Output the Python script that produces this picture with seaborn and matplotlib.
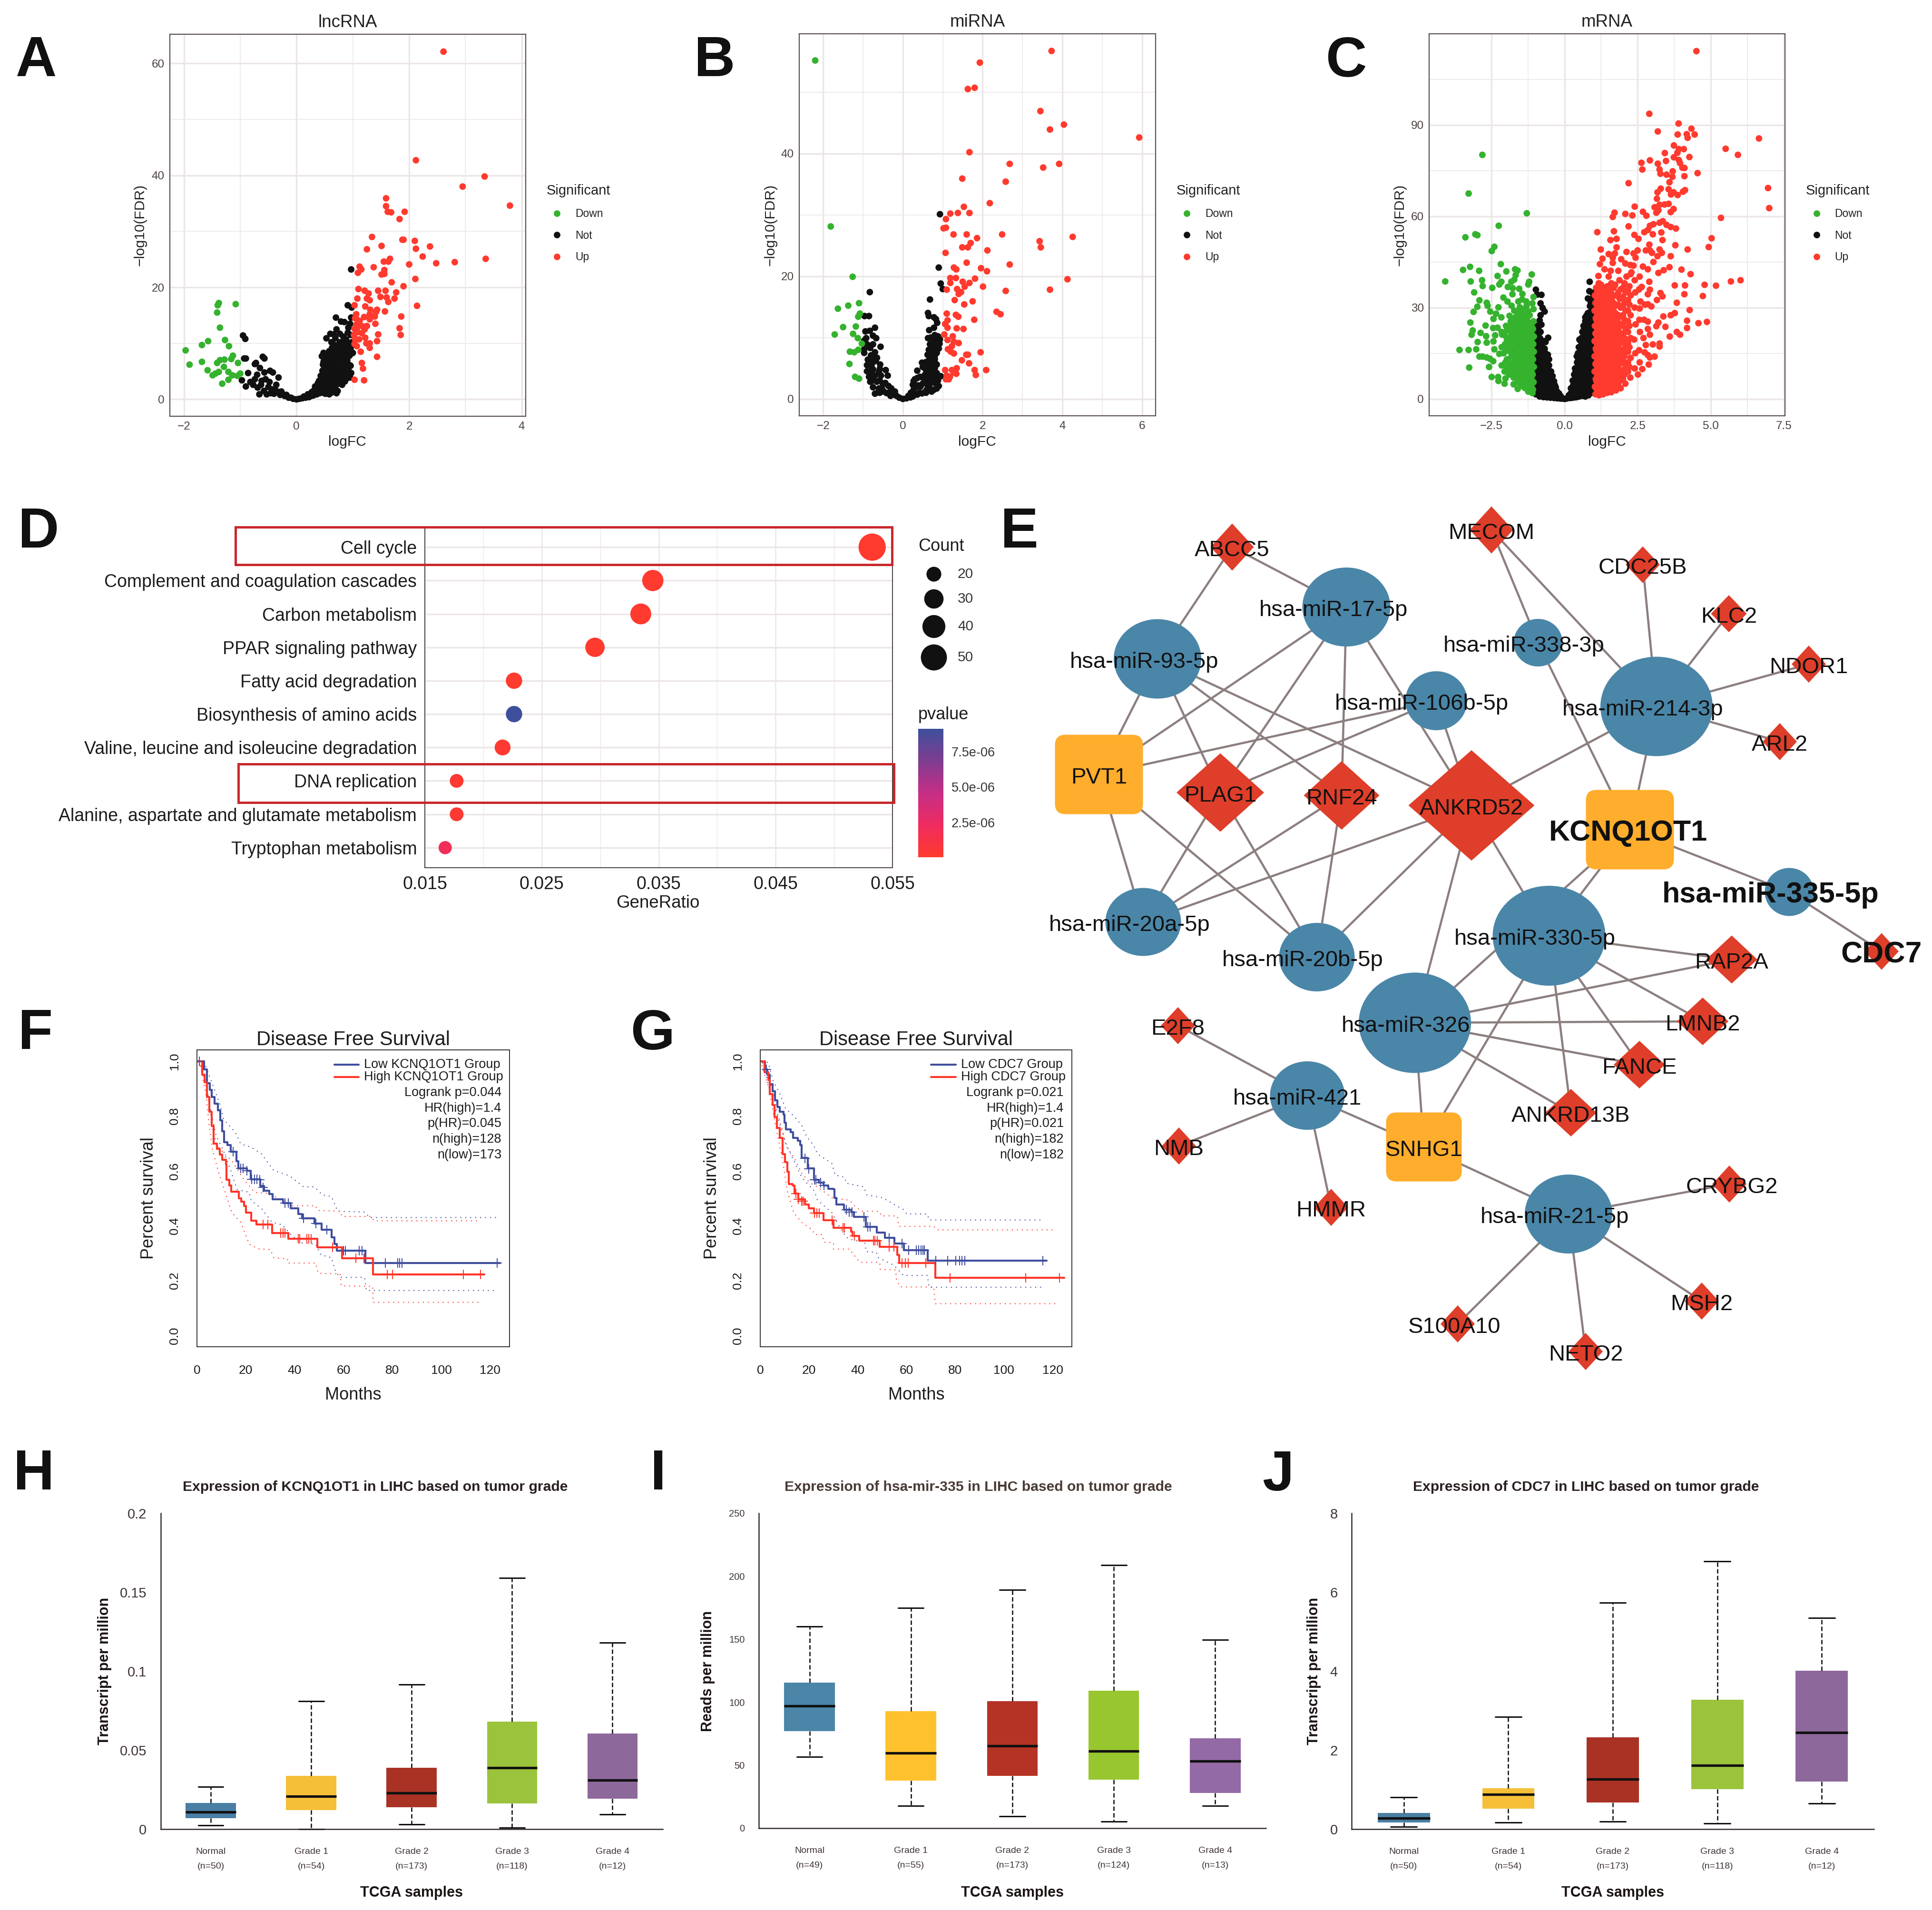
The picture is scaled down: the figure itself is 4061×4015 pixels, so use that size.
import numpy as np
import pandas as pd
import matplotlib
matplotlib.use('Agg')
import matplotlib.pyplot as plt
import seaborn as sns
from matplotlib.colors import LinearSegmentedColormap, Normalize
from matplotlib.cm import ScalarMappable
from matplotlib.patches import Ellipse, Polygon, FancyBboxPatch, Rectangle

sns.set_theme(style='white')
plt.rcParams['font.family'] = ['Liberation Sans', 'DejaVu Sans']
plt.rcParams['axes.unicode_minus'] = True

W, H = 4061, 4015

# ---------- volcano data (logFC, -log10 FDR) ----------
a_down = [(-1.97,8.75),(-1.90,6.2),(-1.68,9.7),(-1.57,10.4),(-1.68,6.7),(-1.58,5.2),(-1.49,4.3),(-1.44,4.6),(-1.38,4.9),(-1.41,6.5),
          (-1.36,7.0),(-1.28,7.1),(-1.29,5.8),(-1.32,2.8),(-1.21,3.5),(-1.21,4.9),(-1.14,4.3),(-1.05,4.2),(-1.0,4.6),(-1.16,7.2),
          (-1.13,7.8),(-1.04,6.5),(-1.20,9.5),(-1.27,10.6),(-1.36,12.8),(-1.41,15.5),(-1.40,16.8),(-1.38,17.2),(-1.08,17.0)]
a_not = [(-.95,11.4),(-.91,10.8),(-.93,7.3),(-.90,7.3),(-.60,7.6),(-.57,7.3),(-.72,6.5),(-.74,6.3),(-.65,5.6),(-.47,5.1),(-.42,4.8),
         (-.86,4.7),(-.57,4.8),(-.32,3.9),(-.97,3.4),(-.90,2.3),(-.82,3.1),(-.74,3.6),(-.70,4.4),(-.69,2.1),(-.66,.9),(-.53,.9),
         (-.63,2.6),(-.55,3.6),(-.48,3.1),(-.44,1.8),(-.36,2.6),(-.40,1),(-.32,1.3),(-.29,.8),(-.21,.6),(-.14,.3),(-.06,.1),(0,0),
         (-.58,1.5),(-.5,2.2),(-.46,1.1),(-.37,1.6),(-.27,1.4),(-.24,.9),(-.18,.8),(-.1,.3),(-.77,2.6),(-.62,3.3),
         (.05,.1),(.1,.2),(.13,.5),(.16,.3),(.2,.9),(.22,.4),(.26,.6),(.27,1.3),(.3,.7),(.31,1.6),(.33,2.3),(.36,.9),(.37,1.9),(.38,2.9),
         (.41,1.1),(.42,2.1),(.4,3.3),(.43,4.2),(.46,1.2),(.47,2.5),(.45,3.7),(.46,5.1),(.47,6.2),(.45,7.7),(.51,1),(.52,2.1),(.5,3.1),
         (.52,4.2),(.5,5.5),(.51,6.7),(.48,8.3),(.56,1.5),(.55,2.7),(.57,3.9),(.55,5.2),(.56,6.4),(.57,7.6),(.58,8.6),(.62,1.2),(.6,2.5),
         (.61,3.7),(.6,4.9),(.62,6),(.6,7.2),(.63,8.4),(.62,10.2),(.66,1.7),(.65,3),(.67,4.2),(.66,5.4),(.64,6.6),(.66,7.8),(.66,9.1),
         (.71,1.1),(.7,2.5),(.72,3.8),(.71,5),(.69,6.2),(.7,7.4),(.72,8.6),(.69,10.9),(.76,3),(.75,4.4),(.77,5.6),(.74,6.8),(.76,8),
         (.75,9.2),(.81,2.6),(.8,3.6),(.79,5),(.82,6.3),(.8,7.5),(.78,8.8),(.77,10.2),(.86,3.2),(.84,4.6),(.87,6),(.85,7.4),(.88,9.6),
         (.9,3.8),(.92,5.4),(.9,7),(.88,8.1),(.95,3.9),(.97,4.7),(.96,6),(.94,7.8),(.96,9.1),(.98,8.2),(.7,14.6),(.97,14.6),(.79,13.9),
         (.85,13.8),(.95,13.5),(.92,12.8),(.91,11.9),(.6,11.7),(.66,11.6),(.77,11.7),(.96,11.5),(.88,10.7),(.98,10.2),(.97,23.2),
         (.91,16.8),(.98,16.4),(.53,10.9),(.71,12.5),(.83,11.2),(1,8.3)]
a_not_fill = {.48:[1.6,2.6,3.9,5.3,6.7], .53:[1.5,2.7,3.8,5,6.2,7.4], .58:[.9,2,3.2,4.5,5.7,7,8.1], .63:[1.8,3,4.3,5.5,6.8,7.9,9.2],
              .68:[1.4,2.4,3.6,4.9,6.1,7.3,8.5,9.7], .73:[1.5,3.2,4.4,5.7,6.9,8.2,9.4], .78:[2.8,4.2,5.6,6.9,8.2,9.5],
              .83:[3.7,5.2,6.5,7.7,9,10.2], .88:[4.6,6,7.2,8.5,9.5], .93:[4.5,6.2,8.4,9.8]}
a_up = [(2.61,62.1),(2.12,42.7),(3.34,39.8),(2.95,38),(1.59,35.9),(1.59,34.5),(3.79,34.6),(1.62,33.5),(1.68,33.4),(1.92,33.5),(1.83,32.2),
        (1.34,29),(1.88,28.5),(1.9,28.5),(2.1,28.3),(2.37,27.3),(1.51,27.4),(2.12,26.9),(1.25,26.8),(2.24,25.5),(3.36,25.1),(1.66,25.1),
        (1.63,24.6),(1.55,24.6),(2.81,24.5),(2.48,24.3),(2,24.1),(1.12,23.7),(1.37,23.6),(1.15,23.2),(1.56,23.1),(1.09,22.6),(1.56,22.4),
        (1.51,22.3),(2.11,21.5),(1.69,20.9),(1.9,20.2),(1.1,19.7),(1.21,19.4),(1.45,19.4),(1.58,19.4),(1.77,19.1),(1.28,18.9),(1.49,18.3),
        (1.6,18.2),(1.08,18),(1.74,18),(1.25,18),(1.3,17.7),(1.63,17.4),(2.14,16.7),(1.03,16.8),(1.22,16.6),(1.31,16),(1.43,16),(1.57,15.7),
        (1.41,15.6),(1.06,15.2),(1.3,15.2),(1.86,14.8),(1.2,14.7),(1.39,14.8),(1.07,14.3),(1.3,14.3),(1.4,13.5),(1.06,13.3),(1.16,13.1),
        (1.25,13.1),(1.03,12.6),(1.21,12.5),(1.83,12.7),(1.09,12),(1.45,11.6),(1.85,11.5),(1.22,11),(1.04,10.8),(1.11,10.7),(1.43,10.4),
        (1.03,9.9),(1.24,10),(1.3,10),(1.07,9.5),(1.3,9.2),(1.14,8.5),(1.43,7.6),(1.16,6.5),(1.18,5.5),(1.03,3.5),(1.2,3.4),(1.04,14.5),
        (1.12,14),(1.02,11.5),(1.08,12.9),(1.16,11.8)]

b_down = [(-2.2,55.15),(-1.81,28.1),(-1.26,19.9),(-1.1,15.6),(-1.37,15.2),(-1.63,14.7),(-1.08,13.9),(-1.12,13.4),(-1.18,11.8),(-1.5,11.7),
          (-1.25,10.6),(-1.71,10.5),(-1.13,9.9),(-1.03,9.0),(-1.33,7.7),(-1.22,7.6),(-1.12,8),(-1.34,5.7),(-1.2,3.6),(-1.1,3.3)]
b_not = [(-.83,17.4),(-.96,13.5),(-.85,13.5),(-.7,11.6),(-.94,11),(-.83,11.1),(-.75,10.3),(-.67,9.9),(-.92,9.9),(-.97,9.5),(-.56,8.5),(-.82,8.3),
         (-.97,8.1),(-.97,7.5),(-.7,7.6),(-.8,7.1),(-.65,6.7),(-.88,6.4),(-.76,5.9),(-.57,5.6),(-.78,5.1),(-.78,4.4),(-.6,4.4),(-.43,4.7),
         (-.85,3.6),(-.7,3.8),(-.55,3.8),(-.38,3.8),(-.82,2.8),(-.65,2.8),(-.5,2.4),(-.7,.85),(-.6,1.7),(-.48,1.2),(-.36,2.1),(-.41,.95),
         (-.29,1.7),(-.2,1.2),(-.31,.5),(-.16,.5),(-.09,.2),(0,0),(-.75,4.8),(-.68,6.2),(-.62,1.1),(-.52,1.6),(-.44,2.6),(-.33,1.1),(-.25,.7),
         (.09,.1),(.19,.25),(.14,.5),(.25,.4),(.2,1),(.3,.8),(.27,1.5),(.36,.7),(.33,1.9),(.25,2.3),(.27,2.9),(.42,1),(.38,2.2),(.3,3.2),(.48,.9),
         (.44,2),(.36,3.4),(.55,1.1),(.5,2.5),(.43,3.6),(.36,4.6),(.6,1.5),(.55,2.8),(.49,3.5),(.66,2),(.62,3.1),(.55,3.9),(.72,1.2),(.78,1.5),
         (.85,1.7),(.9,2.1),(.88,3),(.7,3.2),(.76,3.3),(.65,4.4),(.7,4.5),(.85,4.2),(.95,3.7),(.5,5.2),(.6,5.1),(.72,5.5),(.85,5.6),(.48,5.9),
         (.58,6),(.66,6.4),(.8,6.5),(.62,7.2),(.72,7.2),(.85,7.5),(.65,8),(.78,8),(.9,8.2),(.7,8.8),(.85,9),(.63,9.9),(.7,10),(.8,10.4),(.88,10.2),
         (.93,9.7),(.66,11.2),(.78,11.6),(.86,12.4),(.83,13),(.78,13.3),(.65,13.5),(.63,14),(.68,16.2),(1.0,17.9),(.95,18.8),(.9,21.4),(.93,30.1),
         (.92,9),(.75,9.3)]
b_not_fill = {.58:[1,2.5,3.5,4.7,5.5], .68:[2.5,3.7,5,6,7.5,8.9], .8:[2.6,3.7,5,6,7,8.5,9.5], -.75:[1.9,3,6.7,8.9], -.58:[1,3,4.9], -.9:[4.5,5.5,8.9]}
b_up = [(3.73,56.7),(1.93,54.8),(1.8,50.7),(1.63,50.5),(3.45,46.9),(4.04,44.7),(3.69,43.9),(5.93,42.6),(1.67,40.2),(2.68,38.3),(3.92,38.3),(3.52,37.7),
        (1.49,35.9),(2.58,35.4),(2.18,31.9),(1.53,31.3),(1.38,30.3),(1.19,30.2),(1.67,30.3),(1.08,29.3),(1.08,27.9),(1.02,27.8),(1.27,26.8),(1.6,26.8),
        (2.49,26.8),(4.26,26.4),(1.86,26.2),(3.43,25.7),(1.7,25.4),(3.46,24.7),(1.49,24.7),(1.63,24.7),(2.12,24.2),(1.07,23.8),(1.6,22.2),(2.68,21.9),
        (1.28,21.4),(1.34,21.1),(1.96,21.3),(2.11,20.8),(1.19,19.7),(1.33,19.7),(1.81,19.6),(4.13,19.5),(1.5,19.1),(1.67,18.9),(1.19,18.9),(1.55,18.3),
        (2.01,18.3),(1.36,17.9),(1.1,17.8),(3.69,17.8),(2.58,17.6),(1.46,17.4),(1.4,17.1),(1.3,16.1),(1.75,15.9),(1.54,15.4),(2.35,14.2),(2.45,13.8),
        (1.1,13.9),(1.33,13.7),(1.39,13.4),(1.79,12.9),(1.12,12.8),(1.06,12.2),(1.12,11.6),(1.35,11.5),(1.52,11.4),(1.04,10.5),(1.25,10.2),(1.12,9.6),
        (1.28,9.3),(1.4,9.1),(1.23,8.6),(1.13,8.1),(1.2,7.7),(1.28,7.4),(1.59,7.2),(1.63,7.2),(1.95,7.6),(1.48,6.3),(1.66,5.8),(1.06,4.7),(1.35,5),
        (2.09,4.7),(1.8,4.7),(1.23,4.7),(1.28,4.3),(1.34,4.1),(1.83,3.9),(1.1,3.8),(1.18,3.6),(1.08,3.2),(1.15,3.2)]

c_down = [(-2.81,80.2),(-3.28,67.5),(-1.29,61),(-2.25,56.9),(-3.05,54.1),(-2.98,53.8),(-3.39,53.1),(-2.4,50),(-2.49,48.6),(-2.18,44.3),(-3.23,43.4),
          (-3.47,42.4),(-2.92,42.1),(-1.69,42.6),(-1.61,42.2),(-1.99,41.9),(-1.12,40.9),(-2.29,40.4),(-1.67,40.7),(-1.72,39.2),(-4.08,38.6),(-3.21,38.6),
          (-2.82,39),(-2.16,38.5),(-1.82,38.5),(-1.21,38.5),(-1.24,37.6),(-2.8,37.1),(-2.23,37.6),(-2.47,36.5),(-1.94,36.8),(-1.77,36.4),(-1.55,36.2),
          (-3.09,35),(-1.78,34.4),(-2.09,33.3),(-2.91,32.4),(-1.45,32.7),(-1.06,33.5),(-1.95,32),(-1.31,32),(-2.66,31.6),(-1.1,31.4),(-2.98,30.3),
          (-2.63,30.6),(-2.26,30.1),(-1.81,30.6),(-1.53,30.1),(-3.11,28.6),(-2.54,28.7),(-2.34,28),(-1.24,28.7),(-1.06,29.5),(-2.43,26.3),(-2.16,26.8),
          (-1.88,27.3),(-1.6,27.8),(-3.22,25.1),(-2.7,24.1),(-2.44,23.3),(-2.29,23.4),(-3.14,22.5),(-2.87,21.7),(-3.18,21.1),(-2.68,20.6),(-2.37,20.9),
          (-2.13,21.1),(-2.97,18.7),(-2.66,18.5),(-2.43,18.9),(-3.59,16.1),(-3.28,16.1),(-3.02,16.3),(-2.4,16.3),(-2.91,13.9),(-2.8,13.9),(-2.66,13.6),
          (-2.55,13.2),(-3.26,10.3),(-2.58,10.5),(-2.44,12.4),(-2.23,14.8),(-2.49,7.2),(-2.27,7.2),(-2.26,5.9),(-2.02,6.7),(-2.05,5),(-1.74,4.8),(-1.6,3.3),
          (-1.1,1.9),(-1.38,3.8),(-1.24,2.4),
          (-2.05,9),(-2.02,12),(-2.08,15),(-2.03,18),(-2.06,21),(-2.0,24),(-1.9,8),(-1.88,10.5),(-1.92,13),(-1.86,15.5),(-1.9,18),(-1.85,20.5),(-1.9,23),(-1.84,25.5),
          (-1.74,7),(-1.76,9.5),(-1.72,12),(-1.75,14.5),(-1.7,17),(-1.74,19.5),(-1.7,22),(-1.73,24.5),(-1.68,26.8),(-1.72,29),(-1.6,5.5),(-1.62,8),(-1.58,10.5),
          (-1.6,13),(-1.57,15.5),(-1.62,18),(-1.58,20.5),(-1.6,23),(-1.56,25.5),(-1.62,28.5),(-1.58,32),(-1.48,4.5),(-1.46,7),(-1.49,9.5),(-1.45,12),(-1.48,14.5),
          (-1.44,17),(-1.47,19.5),(-1.44,22),(-1.48,24.5),(-1.44,27),(-1.47,29.5),(-1.44,34.5),(-1.34,3.5),(-1.32,6),(-1.35,8.5),(-1.31,11),(-1.34,13.5),(-1.3,16),
          (-1.33,18.5),(-1.3,21),(-1.34,23.5),(-1.3,26),(-1.33,29),(-1.3,30.5),(-1.2,2.8),(-1.18,5),(-1.21,7.5),(-1.17,10),(-1.2,12.5),(-1.16,15),(-1.19,17.5),(-1.16,20),
          (-1.2,22.5),(-1.17,25),(-1.19,27.5),(-1.08,3),(-1.06,5.5),(-1.09,8),(-1.05,10.5),(-1.08,13),(-1.05,15.5),(-1.07,18),(-1.05,20.5),(-1.08,23),(-1.06,25.5)]
c_down_fill = {-1.13:[4,6.5,9,11.5,14,16.5,19,21.5,24], -1.26:[4.5,7,9.5,12,14.5,17,19.5,22,24.5,27], -1.4:[5,7.5,10,12.5,15,17.5,20,22.5,25,28],
               -1.54:[6.5,9,11.5,14,16.5,19,21.5,24,27], -1.67:[8,10.5,13,15.5,18,20.5,23,26], -1.81:[9,11.5,14,16.5,19,21.5,24],
               -1.97:[10,13,16,19.5,22.5], -2.15:[11,17,22]}
c_not = [(-.98,1.5),(-.96,4),(-1,6.5),(-.97,9),(-.99,11.5),(-.96,14),(-.97,16.5),(-.99,19),(-.94,21.5),(-.96,24),(-.98,35.9),(-.93,34.3),(-.79,34.2),(-.82,31.4),
         (-.75,29.9),(-.68,28.7),(-.82,27.5),(-.85,25.8),(-.79,24.4),(-.82,22),(-.56,20.1),(-.65,18.7),(-.85,.8),(-.83,3),(-.86,5.5),(-.82,8),(-.85,10.5),
         (-.81,13),(-.84,15.5),(-.8,18),(-.84,20),(-.72,.6),(-.7,2.5),(-.73,4.5),(-.69,6.5),(-.72,9),(-.68,11.5),(-.72,14),(-.68,16.5),(-.72,19),(-.6,.5),(-.58,2),(-.61,4),
         (-.57,6),(-.6,8),(-.56,10),(-.6,12.5),(-.57,14.5),(-.48,.4),(-.46,1.8),(-.49,3.5),(-.45,5.2),(-.49,7),(-.46,9),(-.36,.3),(-.34,1.5),(-.37,3),(-.33,4.5),(-.36,5.8),
         (-.25,.2),(-.23,1.2),(-.26,2.5),(-.14,.1),(-.13,.9),(-.06,.1),(0,0),
         (.06,.1),(.13,.3),(.15,1.2),(.2,.3),(.21,1.8),(.22,3.5),(.27,.4),(.28,1.6),(.26,3),(.3,4.5),(.28,6),(.34,.5),(.33,2),(.36,3.5),(.32,5),(.35,6.5),(.33,8),(.36,10),
         (.42,.6),(.41,2.5),(.43,4.2),(.4,6),(.42,8),(.4,10),(.43,12),(.42,14),(.5,.8),(.49,3),(.52,5),(.48,7),(.51,9),(.49,11),(.52,13),(.5,15),(.49,17),(.51,19.5),
         (.6,1),(.58,3.5),(.61,6),(.57,8),(.6,10),(.58,12),(.61,14),(.58,16),(.6,18),(.58,20),(.61,22),(.71,.8),(.69,3),(.72,5),(.68,7),(.71,9),(.68,11),(.72,13),
         (.69,15),(.72,17),(.68,19),(.71,21),(.69,23),(.71,25.5),(.71,26.8),(.82,1.2),(.8,4),(.83,6.5),(.79,9),(.82,11.5),(.79,14),(.83,16.5),(.8,19),(.83,21.5),
         (.8,24),(.83,26),(.8,28.2),(.93,2),(.9,5),(.94,7.5),(.9,10),(.93,12.5),(.9,15),(.94,17.5),(.9,20),(.93,22.5),(.9,25),(.94,27.5),(.95,29.7),(.9,31.6),
         (.8,33),(.99,33.5),(.85,35.4),(.95,34.9),(.86,38.5)]
c_not_fill = {-.9:[2.5,5,7.5,10,12.5,15,17.5,20,23], -.77:[1.5,4,7,9.5,12,14.5,17,19], -.65:[1.2,3.2,5.2,7.2,9.5,11,13,15], -.53:[1,3,5,7,9,11,13],
              -.41:[.8,2.5,4.2,6,7.5], -.3:[.7,2.2,3.8], -.19:[.5,1.8], .3:[2.5,3.8], .38:[1.2,2.8,4.4,5.8,7.5,9], .46:[1.5,3.5,5.5,7.5,9.5,11.5,13.5,15],
              .55:[2,4,6,8.5,11,13,15,17,19], .65:[2,4.5,6.5,8.5,10.5,12.5,14.5,16.5,18.5,20.5,22.5,24], .76:[2,4.5,7,10,12.5,15,17.5,20,22.5,25,27.5],
              .87:[3,6,8.5,11,13.5,16,18.5,21,23.5,26,28.5,30.5], .97:[4,7,9.5,12,14.5,17,19.5,22,24.5,27,30,32.5]}
c_up = [(4.51,114.3),(2.9,93.7),(3.9,90.5),(4.34,88.8),(3.19,87.9),(3.87,86.9),(4.18,87),(4.45,86.9),(4.21,85.8),(6.65,85.6),(3.74,83.3),(5.51,82.2),(3.91,82.1),(4.08,82.1),
        (5.93,80.2),(3.43,80.8),(3.86,80.9),(3.74,79.4),(4.27,79.5),(2.92,78.4),(3.91,78.5),(3.47,78.2),(2.63,77.6),(3.19,77.3),(3.95,77.5),(2.66,75.4),(3.25,75.4),(3.7,74.8),
        (4.03,76),(4.1,75.9),(4.55,74.2),(3.28,74),(3.49,73.7),(3.69,73),(4.1,73.2),(2.19,70.9),(3.59,71.2),(6.96,69.3),(3.29,69.1),(3.56,68.9),(3.18,67.9),(4.12,68.6),(3.73,67.9),
        (4.05,68.1),(3.64,67.2),(3.87,67),(3.16,65.8),(3.56,64.1),(3.25,63.8),(3.42,63.9),(3.08,63),(2.4,63.2),(7.0,62.7),(3.21,62),(3.73,62.4),(2.68,61.5),(3.14,61.2),(3.63,61.4),
        (1.71,61.2),(2.08,60.8),(2.32,60.3),(1.65,59.8),(2.8,60.2),(5.35,59.5),(3.36,58.4),(3.25,57.9),(3.04,57.4),(2.92,56.9),(2.19,56.7),(3.49,57.2),(3.63,56.5),(3.81,56),(2.85,55.5),
        (1.12,54.8),(1.69,55.1),(2.73,54.8),(3.31,54.7),(3.02,54.1),(2.39,53.9),(2.53,52.6),(1.57,52.2),(1.78,52.6),(3.35,52.2),(5.03,52.8),(2.9,50.7),(3.79,50.5),(4.93,49.9),(1.78,49.8),
        (1.24,49.1),(3.25,49.1),(4.21,49.1),(2.5,48.8),(2.78,48.8),(2.92,48.8),(2.12,48.3),(1.72,47.8),(2.36,47.8),(2.99,48),(3.33,48),(1.51,47.6),(3.63,46.9),(1.3,46.1),(1.65,46.4),(1.94,45.9),
        (3.18,46.9),(2.43,46.4),(3.04,45),(1.21,44.3),(1.65,44.7),(2.08,44.5),(2.36,43.8),(2.68,43.5),(2.85,42.6),(3.59,43.3),(3.39,42.3),(3.21,41.4),(4,42.5),(4.31,41),(1.37,42.6),(1.58,42.1),
        (1.84,42.1),(2.29,41.6),(1.16,40.4),(1.51,40.2),(2.12,40.2),(2.57,40.2),(6.02,39),(5.69,38.6),(2.9,38.5),(4.79,37.5),(5.18,37.2),(3.77,37.3),(4.12,37.3),(2.64,36.8),(2.92,35.9),(4.1,34.4),
        (3.28,34.8),(4.73,33.8),(3.35,33.7),(2.85,34.4),(3.16,32.5),(3.84,31.6),(2.85,31.1),(2.97,30.4),(4.28,29.2),(2.57,29.7),(3.77,28.2),(3.63,27.5),(3.38,27.1),(4.19,25.7),(4.87,25.3),(4.58,24.9),
        (3.21,25.1),(2.85,25.4),(4.19,23.3),(3.45,23.7),(3.14,23.9),(2.85,23),(3.84,22),(3.95,21.1),(2.92,21.1),(3.6,20.5),(3.25,18.2),(3.02,17.9),(2.78,17.7),(3.25,17.2),(2.74,15.3),(2.85,14.4),
        (3.08,13.9),(2.92,13.6),(2.57,12),(2.88,11.3),(2.66,9.8),(2.51,8),
        (1.06,1.5),(1.04,4),(1.07,6.5),(1.03,9),(1.06,11.5),(1.03,14),(1.07,16.5),(1.03,19),(1.06,21.5),(1.04,24),(1.07,26.5),(1.03,29),(1.06,31.5),(1.04,34),(1.08,36.5),
        (1.18,1.2),(1.16,3.5),(1.2,6),(1.15,8.5),(1.19,11),(1.16,13.5),(1.2,16),(1.16,18.5),(1.19,21),(1.16,23.5),(1.2,26),(1.16,28.5),(1.19,31),(1.16,33.5),(1.19,36),(1.17,38),
        (1.32,1.5),(1.3,4),(1.33,6.5),(1.29,9),(1.33,11.5),(1.3,14),(1.33,16.5),(1.29,19),(1.33,21.5),(1.3,24),(1.33,26.5),(1.29,29),(1.33,31.5),(1.3,34),(1.32,36.5),
        (1.46,2),(1.44,4.5),(1.47,7),(1.43,9.5),(1.47,12),(1.44,14.5),(1.47,17),(1.43,19.5),(1.47,22),(1.44,24.5),(1.47,27),(1.43,29.5),(1.47,32),(1.44,34.5),(1.46,37),
        (1.6,2.2),(1.58,5),(1.61,7.5),(1.57,10),(1.61,12.5),(1.58,15),(1.61,17.5),(1.57,20),(1.61,22.5),(1.58,25),(1.61,27.5),(1.57,30),(1.61,32.5),(1.58,35),(1.6,38),
        (1.76,2.8),(1.73,5.5),(1.76,8),(1.72,10.5),(1.76,13),(1.73,15.5),(1.76,18),(1.72,20.5),(1.76,23),(1.73,25.5),(1.76,28),(1.72,30.5),(1.76,34),(1.73,37.5),
        (1.92,3.5),(1.89,6),(1.92,9),(1.88,11.5),(1.92,14),(1.88,16.5),(1.92,19),(1.88,21.5),(1.92,24),(1.88,27),(1.92,30),(1.88,33),(1.92,36),(1.88,39),
        (2.08,5),(2.05,8),(2.09,11),(2.05,14),(2.09,17),(2.05,20),(2.09,23),(2.05,26),(2.09,29),(2.05,32),(2.09,35),(2.05,38),
        (2.25,7),(2.22,10.5),(2.26,13.5),(2.22,17),(2.26,20),(2.22,24),(2.26,27.5),(2.22,31),(2.26,34),(2.22,37),(2.26,41),(2.25,44),(2.4,10),(2.42,15),(2.38,19.5),(2.43,24.5),(2.4,30),(2.42,35),(2.4,39),
        (2.55,16),(2.58,22),(2.56,26),(2.6,32),(2.55,36),(2.7,20),(2.72,26),(2.75,31)]
c_up_fill = {1.12:[2.8,5.3,7.8,10.3,12.8,15.3,17.8,20.3,22.8,25.3,27.8,30.3,32.8,35.3], 1.25:[2.5,5,7.5,10,12.5,15,17.5,20,22.5,25,27.5,30,32.5,35,37.5],
             1.39:[3,5.5,8,10.5,13,15.5,18,20.5,23,25.5,28,30.5,33,35.5], 1.53:[3.5,6,8.5,11,13.5,16,18.5,21,23.5,26,28.5,31,33.5,36],
             1.68:[4,6.5,9,11.5,14,16.5,19,21.5,24,26.5,29,31.5,34,36.5], 1.84:[4.5,7.5,10,12.5,15,17.5,20,22.5,25,27.5,31,35],
             2.0:[6.5,9.5,12.5,15.5,18.5,21.5,24.5,27.5,30.5,33.5,36.5], 2.17:[9,12,15.5,18.5,22,25.5,29,32.5,35.5]}

# ---------- panel D ----------
d_terms = ['Cell cycle', 'Complement and coagulation cascades', 'Carbon metabolism', 'PPAR signaling pathway', 'Fatty acid degradation',
           'Biosynthesis of amino acids', 'Valine, leucine and isoleucine degradation', 'DNA replication',
           'Alanine, aspartate and glutamate metabolism', 'Tryptophan metabolism']
d_ratio = [0.05326, 0.0345, 0.03347, 0.02955, 0.02263, 0.02263, 0.02165, 0.01772, 0.01772, 0.01674]
d_count = [54, 35, 34, 30, 23, 23, 22, 18, 18, 17]
d_pvalue = [1e-8, 1e-8, 1e-8, 2e-8, 5e-8, 9.1e-6, 2e-7, 2e-7, 3e-7, 2.0e-6]
d_legend_counts = [20, 30, 40, 50]

# ---------- panel E network ----------
net_names = ['ABCC5','MECOM','CDC25B','KLC2','NDOR1','ARL2','hsa-miR-17-5p','hsa-miR-93-5p','hsa-miR-338-3p','hsa-miR-106b-5p','hsa-miR-214-3p',
             'PVT1','PLAG1','RNF24','ANKRD52','KCNQ1OT1','hsa-miR-335-5p','hsa-miR-20a-5p','hsa-miR-20b-5p','hsa-miR-330-5p','hsa-miR-326',
             'RAP2A','CDC7','LMNB2','FANCE','ANKRD13B','E2F8','hsa-miR-421','NMB','SNHG1','HMMR','hsa-miR-21-5p','CRYBG2','MSH2','S100A10','NETO2']
net_kind = ['d','d','d','d','d','d','c','c','c','c','c','r','d','d','d','r','c','c','c','c','c','d','d','d','d','d','d','c','d','r','d','c','d','d','d','d']
net_x = [2590,3135,3453,3634,3802,3741,2830,2433,3233,3019,3482,2310,2565,2820,3093,3426,3761,2403,2768,3256,2974,3640,3955,3579,3446,3302,2476,2748,2478,2993,2798,3297,3635,3577,3064,3333]
net_y = [1150,1114,1187,1290,1396,1559,1276,1385,1351,1473,1485,1628,1666,1672,1693,1744,1875,1938,2012,1967,2150,2017,2000,2147,2238,2339,2156,2303,2409,2411,2538,2552,2489,2735,2783,2841]
net_w = [91,91,72,75,72,72,185,184,103,130,236,185,184,159,265,185,103,159,159,237,236,108,72,108,108,108,72,157,72,159,72,184,72,72,72,72]
net_h = [99,99,77,78,78,78,166,167,100,124,209,167,165,144,232,167,101,143,144,210,211,101,77,100,100,100,78,144,78,145,78,166,78,78,78,78]
net_label_dx = [0,0,0,0,0,0,-27,-28,-30,-31,-29,0,0,0,0,-4,-39,-29,-30,-30,-19,0,0,0,0,0,0,-21,0,0,0,-29,5,0,-7,0]
net_bold = ['KCNQ1OT1', 'hsa-miR-335-5p', 'CDC7']
net_edges = [('ABCC5','hsa-miR-93-5p'),('ABCC5','hsa-miR-17-5p'),('MECOM','hsa-miR-338-3p'),('MECOM','hsa-miR-214-3p'),('CDC25B','hsa-miR-214-3p'),
             ('KLC2','hsa-miR-214-3p'),('NDOR1','hsa-miR-214-3p'),('ARL2','hsa-miR-214-3p'),('hsa-miR-214-3p','ANKRD52'),('hsa-miR-214-3p','KCNQ1OT1'),
             ('hsa-miR-338-3p','KCNQ1OT1'),('hsa-miR-17-5p','PVT1'),('hsa-miR-17-5p','PLAG1'),('hsa-miR-17-5p','RNF24'),('hsa-miR-17-5p','ANKRD52'),
             ('hsa-miR-93-5p','PVT1'),('hsa-miR-93-5p','PLAG1'),('hsa-miR-93-5p','RNF24'),('hsa-miR-93-5p','ANKRD52'),('hsa-miR-106b-5p','PVT1'),
             ('hsa-miR-106b-5p','PLAG1'),('hsa-miR-106b-5p','ANKRD52'),('PVT1','hsa-miR-20a-5p'),('PVT1','hsa-miR-20b-5p'),('PLAG1','hsa-miR-20a-5p'),
             ('PLAG1','hsa-miR-20b-5p'),('RNF24','hsa-miR-20a-5p'),('RNF24','hsa-miR-20b-5p'),('ANKRD52','hsa-miR-20a-5p'),('ANKRD52','hsa-miR-20b-5p'),
             ('ANKRD52','hsa-miR-326'),('ANKRD52','hsa-miR-330-5p'),('KCNQ1OT1','hsa-miR-330-5p'),('KCNQ1OT1','hsa-miR-326'),('KCNQ1OT1','hsa-miR-335-5p'),
             ('hsa-miR-335-5p','CDC7'),('hsa-miR-330-5p','RAP2A'),('hsa-miR-330-5p','LMNB2'),('hsa-miR-330-5p','FANCE'),('hsa-miR-330-5p','ANKRD13B'),
             ('hsa-miR-330-5p','SNHG1'),('hsa-miR-326','RAP2A'),('hsa-miR-326','LMNB2'),('hsa-miR-326','FANCE'),('hsa-miR-326','ANKRD13B'),('hsa-miR-326','SNHG1'),
             ('hsa-miR-421','E2F8'),('hsa-miR-421','NMB'),('hsa-miR-421','HMMR'),('hsa-miR-421','SNHG1'),('SNHG1','hsa-miR-21-5p'),('hsa-miR-21-5p','CRYBG2'),
             ('hsa-miR-21-5p','MSH2'),('hsa-miR-21-5p','NETO2'),('hsa-miR-21-5p','S100A10')]

# ---------- panels F, G survival ----------
f_low = [(0,1),(3,.97),(4,.92),(5.2,.895),(6,.87),(7.2,.845),(8.5,.82),(9.5,.785),(10.3,.745),(11,.705),(12.5,.695),(13.8,.67),(16.2,.635),(17,.61),(20.5,.6),(22,.57),
         (25.8,.545),(27.5,.527),(29.5,.515),(31,.497),(35.3,.483),(38.3,.463),(41.5,.443),(43,.428),(48,.408),(51,.386),(55,.358),(56.2,.333),(57.2,.31),(69,.265),(124,.265)]
f_high = [(0,1),(2.1,.95),(3.1,.923),(4.1,.87),(5,.816),(6,.764),(6.9,.70),(8.1,.68),(9.3,.66),(10.4,.64),(11.9,.625),(12.1,.567),(13.3,.547),(14,.525),(17.1,.5),(18.1,.487),
          (19.3,.472),(20,.448),(22.1,.418),(24.3,.404),(30.7,.373),(37.4,.353),(49.3,.321),(59.3,.282),(72.1,.223),(117.6,.223)]
f_low_up = [(.7,1),(3,.995),(6.4,.915),(9.3,.846),(11,.786),(15.7,.741),(17.9,.698),(22,.687),(26.4,.662),(31.4,.602),(37.9,.582),(43.6,.542),(47.9,.542),(51.4,.512),(55,.507),(57.6,.453),(68.6,.45),(70.7,.43),(122.9,.43)]
f_low_lo = [(1.4,1),(3.6,.915),(5.7,.816),(7.9,.726),(10.7,.677),(13.6,.607),(16.4,.532),(21.4,.522),(22.1,.493),(26.4,.463),(30.7,.413),(35,.403),(37.9,.373),(42.1,.338),(48.6,.333),(50.7,.294),(55,.284),(56.7,.234),(58.6,.212),(68.6,.212),(69.3,.164),(122.9,.164)]
f_high_up = [(.7,1),(3.6,.94),(5,.846),(6.4,.756),(7.9,.697),(10.7,.667),(14.3,.637),(19.3,.567),(23.6,.522),(30,.517),(37.9,.473),(48.6,.473),(49.3,.456),(58.6,.453),(59.3,.434),(71.4,.434),(72.4,.418),(115,.418)]
f_high_lo = [(1.4,.985),(3.6,.886),(5,.766),(6.4,.677),(8.6,.602),(12.1,.507),(14.3,.448),(17.9,.413),(21.4,.333),(25,.316),(30,.313),(31.4,.284),(37.1,.279),(37.1,.264),(48.6,.264),(49.6,.227),(58.6,.224),(59,.181),(71.9,.179),(72.1,.121),(116,.121)]
f_low_cens = [(1,1),(14.7,.67),(17.9,.61),(18.9,.61),(20.4,.6),(22.4,.57),(23.6,.57),(24.6,.57),(25.7,.567),(27.1,.54),(36,.483),(37.4,.483),(43.6,.428),(48.6,.408),(53.1,.386),(60,.31),(60.7,.31),(66.4,.31),(67.6,.31),(77,.265),(82.1,.265),(83,.265),(83.9,.265),(122.9,.265)]
f_high_cens = [(27.1,.404),(29,.404),(34.3,.373),(35.3,.373),(36.1,.373),(41.4,.353),(42.1,.353),(45,.353),(45.7,.353),(46.7,.353),(55.4,.321),(65,.282),(68.3,.282),(77.9,.223),(80,.223),(109,.223),(116,.223)]
f_legend = ['Low KCNQ1OT1 Group', 'High KCNQ1OT1 Group', 'Logrank p=0.044', 'HR(high)=1.4', 'p(HR)=0.045', 'n(high)=128', 'n(low)=173']

g_low = [(0,1),(2,.97),(3,.95),(4,.917),(5,.89),(6,.858),(7,.833),(8,.816),(9.5,.806),(10,.776),(10.5,.751),(12.5,.741),(13.5,.721),(15.5,.71),(16.5,.695),(17,.647),(19.5,.609),(22.1,.567),
         (24,.557),(26,.547),(28,.535),(30,.533),(30.5,.502),(31.2,.478),(34.4,.458),(37.5,.45),(38.4,.433),(43.3,.396),(47.9,.376),(51.1,.356),(55,.336),(59,.311),(68.8,.272),(117.6,.272)]
g_high = [(0,1),(1.7,.96),(3.3,.932),(3.9,.88),(5,.84),(5.9,.796),(6.8,.756),(8.1,.721),(9.2,.662),(10.1,.632),(11.1,.597),(11.8,.552),(13.3,.547),(14.1,.517),(15.7,.496),(18.3,.478),(19.9,.463),
          (22,.446),(26,.42),(30,.393),(37.2,.378),(37.9,.363),(40.7,.346),(49,.324),(56.2,.294),(57,.264),(71.9,.211),(124.8,.211)]
g_low_up = [(.7,1),(3.3,.995),(5.2,.93),(7.8,.886),(10.5,.826),(13.7,.801),(17,.766),(19,.726),(22,.692),(23.5,.662),(29.4,.627),(30.7,.585),(34.6,.577),(35.3,.555),(42.5,.542),(43.8,.512),(50.3,.502),(54.9,.478),(59,.458),(60.1,.443),(68.6,.443),(69.3,.421),(115.7,.421)]
g_low_lo = [(1,.995),(3.3,.915),(5.9,.836),(8.5,.756),(11.1,.687),(14.4,.627),(17,.577),(19,.557),(22.2,.527),(23.5,.493),(29.4,.448),(31.4,.413),(35.3,.358),(38.6,.346),(42.9,.343),(43.4,.306),(47.7,.303),(48.4,.284),(54.2,.259),(55.6,.249),(58.8,.219),(68.6,.219),(69.3,.176),(115.7,.176)]
g_high_up = [(.7,.997),(3.3,.955),(5.2,.886),(7.2,.806),(9.2,.746),(10.5,.692),(13.7,.652),(17,.592),(20.3,.557),(23.5,.542),(29.4,.502),(36.6,.493),(39.2,.468),(41.8,.453),(49,.453),(49.7,.436),(56.2,.436),(56.9,.398),(71.2,.398),(72.5,.385),(121.6,.385)]
g_high_lo = [(.7,.985),(3.7,.896),(5.2,.816),(7.2,.726),(9.2,.637),(11.1,.527),(13.7,.448),(17,.413),(21.6,.383),(22.2,.368),(25.5,.368),(26.1,.34),(30.1,.338),(30.1,.315),(36.6,.315),(40.8,.267),(49,.267),(49.3,.241),(55.6,.239),(55.9,.204),(57.5,.177),(71.2,.177),(71.9,.116),(122.6,.116)]
g_low_cens = [(2.6,.97),(18.3,.645),(19.9,.607),(22.2,.567),(22.9,.567),(24.8,.557),(26.1,.547),(35.3,.458),(36.6,.45),(37.6,.45),(42.5,.433),(44.2,.396),(45.1,.396),(53,.356),(58.2,.336),(61,.311),(64,.311),(65,.311),(66,.311),(66.7,.311),(67.3,.311),(72,.272),(76.9,.272),(80.2,.272),(81.9,.272),(82.8,.272),(84,.272),(116,.272)]
g_high_cens = [(14.6,.517),(15.7,.496),(17,.49),(17.6,.49),(22.2,.446),(23.2,.446),(24.2,.446),(29.4,.42),(34,.393),(34.6,.393),(38.6,.363),(46.4,.346),(47,.346),(48,.346),(53,.324),(54.9,.324),(58.1,.264),(59.5,.264),(60.8,.264),(68,.264),(78,.211),(109,.211),(122.9,.211)]
g_legend = ['Low CDC7 Group', 'High CDC7 Group', 'Logrank p=0.021', 'HR(high)=1.4', 'p(HR)=0.021', 'n(high)=182', 'n(low)=182']

# ---------- panels H, I, J boxes: low whisker, q1, median, q3, high whisker ----------
grades = ['Normal', 'Grade 1', 'Grade 2', 'Grade 3', 'Grade 4']
h_n = [50, 54, 173, 118, 12]
h_box = [[.0023,.0068,.0107,.0166,.0269],[0,.0119,.0209,.0336,.081],[.0029,.0139,.0228,.039,.0917],[.001,.0162,.039,.0681,.159],[.0092,.0193,.031,.0605,.1182]]
i_n = [49, 55, 173, 124, 13]
i_box = [[56.5,77,96.9,115.7,160],[17.9,37.7,59.7,93,175],[9.3,41.6,65.3,100.8,189.3],[5.4,38.6,61.2,109,208.9],[17.9,28.1,53.3,71.4,149.7]]
j_n = [50, 54, 173, 118, 12]
j_box = [[.062,.164,.281,.406,.804],[.172,.523,.882,1.04,2.84],[.195,.679,1.265,2.33,5.74],[.14,1.007,1.616,3.28,6.78],[.648,1.202,2.443,4.01,5.355]]

RED, GREEN, BLACK = '#ff3a2e', '#35b22e', '#111111'
TICK_C = '#4d4141'
GRID_C = '#ece6e6'
EDGE_C = '#5b5050'
KM_BLUE, KM_RED = '#3f4e9e', '#ff3528'
BOX_H = ['#4a7fa5', '#f5bf38', '#aa3225', '#9cc33c', '#8d689b']
BOX_I = ['#4b86a8', '#ffc22e', '#b43324', '#98c62f', '#936aa5']

fig = plt.figure(figsize=(W / 100, H / 100), dpi=100, facecolor='white')


def flat(cols):
    return [(x, y) for x, ys in cols.items() for y in ys]


def add_ax(box):
    x0, y0, x1, y1 = box
    return fig.add_axes([x0 / W, 1 - y1 / H, (x1 - x0) / W, (y1 - y0) / H])


def place_labels(ax, box, xlab, xpos, ylab, ypos, fs, weight='normal', color='#222222'):
    # label centres are given in figure pixels
    x0, y0, x1, y1 = box
    ax.set_xlabel(xlab, fontsize=fs, fontweight=weight, color=color, va='center', ha='center')
    ax.xaxis.set_label_coords((xpos[0] - x0) / (x1 - x0), (y1 - xpos[1]) / (y1 - y0))
    if ylab:
        ax.set_ylabel(ylab, fontsize=fs, fontweight=weight, color=color, va='center', ha='center')
        ax.yaxis.set_label_coords((ypos[0] - x0) / (x1 - x0), (y1 - ypos[1]) / (y1 - y0))


def volcano(box, title, down, keep, up, xlim, ylim, xmaj, xmin, ymaj, ymin, xfmt, xlab_pos, ylab_pos):
    ax = add_ax(box)
    rows = [(x, y, 'Not') for x, y in keep] + [(x, y, 'Down') for x, y in down] + [(x, y, 'Up') for x, y in up]
    df = pd.DataFrame(rows, columns=['logFC', 'fdr', 'Significant'])
    ax.set_axisbelow(True)
    sns.scatterplot(data=df, x='logFC', y='fdr', hue='Significant', palette={'Down': GREEN, 'Not': BLACK, 'Up': RED},
                    s=100, linewidth=0, legend=False, ax=ax, zorder=3)
    ax.set_xlim(xlim)
    ax.set_ylim(ylim)
    ax.set_xticks(xmaj)
    ax.set_xticklabels([xfmt(v).replace('-', '\u2212') for v in xmaj])
    ax.set_xticks(xmin, minor=True)
    ax.set_yticks(ymaj)
    ax.set_yticks(ymin, minor=True)
    ax.grid(which='major', color=GRID_C, lw=2.4)
    ax.grid(which='minor', color=GRID_C, lw=1.1)
    ax.tick_params(which='major', length=5, width=1.5, color=EDGE_C, labelsize=17.5, labelcolor=TICK_C, pad=3)
    ax.tick_params(which='minor', length=0)
    for s in ax.spines.values():
        s.set_color(EDGE_C)
        s.set_linewidth(1.6)
    ax.set_title(title, fontsize=26.5, color='#222222', pad=11)
    place_labels(ax, box, 'logFC', xlab_pos, '\u2212log10(FDR)', ylab_pos, 21.5)
    return ax


box_a = (357, 72, 1105, 875)
box_b = (1680, 71, 2429, 874)
box_c = (3004, 71, 3752, 874)
volcano(box_a, 'lncRNA', a_down, a_not + flat(a_not_fill), a_up, (-2.25, 4.07), (-3.02, 65.2), [-2, 0, 2, 4], [-1, 1, 3], [0, 20, 40, 60], [10, 30, 50],
        lambda v: str(v), (730, 929), (295, 473))
volcano(box_b, 'miRNA', b_down, b_not + flat(b_not_fill), b_up, (-2.6, 6.34), (-2.75, 59.5), [-2, 0, 2, 4, 6], [-1, 1, 3, 5], [0, 20, 40], [10, 30, 50],
        lambda v: str(v), (2054, 929), (1620, 473))
volcano(box_c, 'mRNA', c_down + flat(c_down_fill), c_not + flat(c_not_fill), c_up + flat(c_up_fill), (-4.63, 7.54), (-5.55, 120), [-2.5, 0, 2.5, 5, 7.5], [-1.25, 1.25, 3.75, 6.25], [0, 30, 60, 90], [15, 45, 75, 105],
        lambda v: f'{v:.1f}', (3378, 929), (2943, 473))

# panel D
box_d = (893, 1108, 1876, 1824)
ax_d = add_ax(box_d)
d_df = pd.DataFrame({'term': d_terms, 'GeneRatio': d_ratio, 'Count': d_count, 'pvalue': d_pvalue})
p_cmap = LinearSegmentedColormap.from_list('pv', ['#ff3a2e', '#ef2c60', '#c62e86', '#7f3d90', '#3e4f9c'])
P_NORM = (5e-8, 9.1e-6)
ax_d.set_axisbelow(True)
sns.scatterplot(data=d_df, x='GeneRatio', y='term', hue='pvalue', palette=p_cmap, hue_norm=P_NORM, size='Count', sizes=(400, 1700),
                size_norm=(17, 54), linewidth=0, legend=False, ax=ax_d, zorder=3, clip_on=False)
ax_d.set_xlim(0.015, 0.055)
ax_d.set_ylim(9.6, -0.6)
ax_d.set_xticks([0.015, 0.025, 0.035, 0.045, 0.055])
ax_d.set_xticklabels(['0.015', '0.025', '0.035', '0.045', '0.055'])
ax_d.set_xticks([0.02, 0.03, 0.04, 0.05], minor=True)
ax_d.grid(axis='y', which='major', color=GRID_C, lw=2.4)
ax_d.grid(axis='x', which='major', color=GRID_C, lw=1.8)
ax_d.grid(axis='x', which='minor', color=GRID_C, lw=1)
ax_d.tick_params(which='major', length=6, width=1.5, color='#333333', labelsize=27, labelcolor='#1c1c1c', pad=6)
ax_d.tick_params(which='minor', length=0)
sns.despine(ax=ax_d, top=True, right=False)
for s in ax_d.spines.values():
    s.set_color('#4a4040')
    s.set_linewidth(1.4)
place_labels(ax_d, box_d, 'GeneRatio', (1383, 1898), '', None, 26.5, color='#1c1c1c')
ax_d.set_ylabel('')

# pvalue colour bar
cax = add_ax((1930, 1532, 1983, 1802))
cb = fig.colorbar(ScalarMappable(norm=Normalize(*P_NORM), cmap=p_cmap), cax=cax)
cb.outline.set_visible(False)
cb.set_ticks([2.5e-6, 5e-6, 7.5e-6])
cb.set_ticklabels(['2.5e-06', '5.0e-06', '7.5e-06'])
cax.tick_params(axis='y', direction='in', length=8, width=1.5, color='white', left=True, right=True, labelsize=19.5, labelcolor='#333333', pad=12)


def km_panel(box, low, high, low_up, low_lo, high_up, high_lo, low_cens, high_cens, title_x, months_x, perc_x):
    ax = add_ax(box)
    for pts, c in [(low_up, KM_BLUE), (low_lo, KM_BLUE), (high_up, KM_RED), (high_lo, KM_RED)]:
        t, s = zip(*pts)
        sns.lineplot(x=list(t), y=list(s), color=c, lw=1.5, linestyle=(0, (1, 4)), estimator=None, sort=False, errorbar=None, ax=ax)
    for pts, c in [(low, KM_BLUE), (high, KM_RED)]:
        t, s = zip(*pts)
        sns.lineplot(x=list(t), y=list(s), color=c, lw=3, drawstyle='steps-post', estimator=None, sort=False, errorbar=None, ax=ax)
    for pts, c in [(low_cens, KM_BLUE), (high_cens, KM_RED)]:
        t, s = zip(*pts)
        sns.scatterplot(x=list(t), y=list(s), color=c, marker='+', s=220, linewidth=1.4, ax=ax, zorder=4)
    ax.set_xlim(0, 127.9)
    ax.set_ylim(-0.041, 1.041)
    ax.set_xticks(range(0, 121, 20))
    ax.set_yticks([0, .2, .4, .6, .8, 1])
    ax.set_yticklabels(['0.0', '0.2', '0.4', '0.6', '0.8', '1.0'], rotation=90, va='center')
    ax.tick_params(axis='x', length=11, width=1.3, color='#333333', labelsize=19, labelcolor='#1c1c1c', pad=16)
    ax.tick_params(axis='y', length=13, width=1.3, color='#333333', labelsize=19, labelcolor='#1c1c1c', pad=12)
    for s in ax.spines.values():
        s.set_color('#3a3232')
        s.set_linewidth(1.4)
    place_labels(ax, box, 'Months', (months_x, 2932), 'Percent survival', (perc_x, 2519), 26, color='#1c1c1c')
    ax.set_title('Disease Free Survival', fontsize=30, color='#1c1c1c', x=(title_x - box[0]) / (box[2] - box[0]), pad=7)
    return ax


box_f = (414, 2207, 1071, 2831)
box_g = (1598, 2207, 2253, 2831)
km_panel(box_f, f_low, f_high, f_low_up, f_low_lo, f_high_up, f_high_lo, f_low_cens, f_high_cens, 742, 742, 313)
km_panel(box_g, g_low, g_high, g_low_up, g_low_lo, g_high_up, g_high_lo, g_low_cens, g_high_cens, 1925, 1926, 1496)


def box_panel(box, values, ns, colors, title, title_x, yticks, ylabels, ylab, ylab_x, xlab_x, tick_fs, title_c='#2a2020'):
    ax = add_ax(box)
    rows = []
    for g, five in zip(grades, values):
        rows += [(g, v) for v in five]
    df = pd.DataFrame(rows, columns=['grade', 'value'])
    sns.boxplot(data=df, x='grade', y='value', hue='grade', order=grades, palette=colors, saturation=1, width=0.5, whis=(0, 100), fliersize=0,
                legend=False, linecolor='#111111', ax=ax,
                boxprops=dict(edgecolor='none', linewidth=0),
                medianprops=dict(color='#111111', linewidth=3.8),
                whiskerprops=dict(color='#111111', linewidth=1.9, linestyle=(0, (3.5, 1.8))),
                capprops=dict(color='#111111', linewidth=2.2))
    for art in ax.lines:
        art.set_clip_on(False)
    ax.set_xlim(-0.5, 4.5)
    ax.set_ylim(yticks[0], yticks[-1])
    ax.set_xticks(range(5))
    ax.set_xticklabels([f'{g}\n(n={n})' for g, n in zip(grades, ns)], fontsize=14, color='#3f3434', linespacing=2.1)
    ax.set_yticks(yticks)
    ax.set_yticklabels(ylabels)
    ax.tick_params(axis='x', length=0, pad=28)
    ax.tick_params(axis='y', length=15, width=1.8, color='#332a2a', labelsize=tick_fs, labelcolor='#3f3434', pad=6)
    sns.despine(ax=ax)
    for s in ('left', 'bottom'):
        ax.spines[s].set_color('#332a2a')
        ax.spines[s].set_linewidth(1.8)
    place_labels(ax, box, 'TCGA samples', (xlab_x, 3979), ylab, (ylab_x, 3513), 22, weight='bold', color='#1c1414')
    ax.set_title(title, fontsize=21.7, fontweight='bold', color=title_c, x=(title_x - box[0]) / (box[2] - box[0]),
                 y=(box[3] - 3126) / (box[3] - box[1]), va='center', pad=0)
    return ax


box_panel((337.5, 3181, 1393, 3845), h_box, h_n, BOX_H, 'Expression of KCNQ1OT1 in LIHC based on tumor grade', 789,
          [0, .05, .1, .15, .2], ['0', '0.05', '0.1', '0.15', '0.2'], 'Transcript per million', 220, 865, 21)
box_panel((1595, 3181, 2661, 3843), i_box, i_n, BOX_I, 'Expression of hsa-mir-335 in LIHC based on tumor grade', 2056,
          [0, 50, 100, 150, 200, 250], ['0', '50', '100', '150', '200', '250'], 'Reads per million', 1488, 2128, 14.5, title_c='#4a3a35')
box_panel((2841, 3181, 3939, 3845), j_box, j_n, BOX_H, 'Expression of CDC7 in LIHC based on tumor grade', 3334,
          [0, 2, 4, 6, 8], ['0', '2', '4', '6', '8'], 'Transcript per million', 2762, 3390, 21)

# overlay in figure pixels: panel letters, legends, red boxes, network
bg = fig.add_axes([0, 0, 1, 1], zorder=10)
bg.set_xlim(0, W)
bg.set_ylim(H, 0)
bg.axis('off')
bg.patch.set_alpha(0)

letters = {'A': (32, 160), 'B': (1459, 160), 'C': (2786, 161), 'D': (38, 1151), 'E': (2103, 1151), 'F': (38, 2205), 'G': (1325, 2206),
           'H': (28, 3131), 'I': (1367, 3131), 'J': (2653, 3133)}
for k, (lx, ly) in letters.items():
    bg.text(lx, ly, k, fontsize=86, fontweight='bold', color='#111111', ha='left', va='baseline')

# Significant legends
for dot_x, title_l, text_l in [(1171, 1149, 1209), (2495, 2473, 2533), (3819, 3796, 3856)]:
    bg.text(title_l, 401, 'Significant', fontsize=21, color='#222222', va='center')
    leg = pd.DataFrame({'x': [dot_x] * 3, 'y': [449, 494, 540], 'lab': ['Down', 'Not', 'Up']})
    sns.scatterplot(data=leg, x='x', y='y', hue='lab', palette={'Down': GREEN, 'Not': BLACK, 'Up': RED}, s=100, linewidth=0, legend=False, ax=bg)
    for lab, ly in zip(leg['lab'], leg['y']):
        bg.text(text_l, ly + 1, lab, fontsize=16.5, color='#222222', va='center')

# D legend and frames
bg.text(1930, 1148, 'Count', fontsize=26, color='#1c1c1c', va='center')
bg.text(1930, 1502, 'pvalue', fontsize=26, color='#1c1c1c', va='center')
leg_d = pd.DataFrame({'x': [1963] * 4, 'y': [1207, 1259, 1317, 1382], 'Count': d_legend_counts})
sns.scatterplot(data=leg_d, x='x', y='y', size='Count', sizes=(400, 1700), size_norm=(17, 54), color='#111111', linewidth=0, legend=False, ax=bg)
for c, ly in zip(d_legend_counts, leg_d['y']):
    bg.text(2013, ly, str(c), fontsize=21.5, color='#333333', va='center')
for rx0, ry0, rx1, ry1 in [(495, 1108, 1875, 1187), (501, 1606, 1879, 1687)]:
    bg.add_patch(Rectangle((rx0, ry0), rx1 - rx0, ry1 - ry0, fill=False, edgecolor='#c8282c', lw=3.6))

# survival legends
for txt, (lx0, lx1), tl, tr in [(f_legend, (703, 754), 765, 1054), (g_legend, (1957, 2009), 2020, 2236)]:
    bg.plot([lx0, lx1], [2238, 2238], color=KM_BLUE, lw=3)
    bg.plot([lx0, lx1], [2264, 2264], color=KM_RED, lw=3)
    bg.text(tl, 2238, txt[0], fontsize=19.5, color='#1c1c1c', va='center')
    bg.text(tl, 2264, txt[1], fontsize=19.5, color='#1c1c1c', va='center')
    for s, ly in zip(txt[2:], [2297, 2330, 2362, 2395, 2428]):
        bg.text(tr, ly, s, fontsize=19.5, color='#1c1c1c', va='center', ha='right')

# network
pos = {n: (x, y) for n, x, y in zip(net_names, net_x, net_y)}
for u, v in net_edges:
    bg.plot([pos[u][0], pos[v][0]], [pos[u][1], pos[v][1]], color='#8c7f7f', lw=3.3, zorder=1, solid_capstyle='round')
for n, k, x, y, w, h, dx in zip(net_names, net_kind, net_x, net_y, net_w, net_h, net_label_dx):
    if k == 'c':
        bg.add_patch(Ellipse((x, y), w, h, facecolor='#4a86a8', edgecolor='none', zorder=2))
    elif k == 'd':
        bg.add_patch(Polygon([(x - w / 2, y), (x, y - h / 2), (x + w / 2, y), (x, y + h / 2)], closed=True, facecolor='#de3e2a', edgecolor='none', zorder=2))
    else:
        bg.add_patch(FancyBboxPatch((x - w / 2 + 20, y - h / 2 + 20), w - 40, h - 40, boxstyle='round,pad=20,rounding_size=22', facecolor='#ffad2c', edgecolor='none', zorder=2))
    if n in net_bold:
        fs = 44 if n != 'CDC7' else 45
        bg.text(x + dx, y + 7, n, fontsize=fs, fontweight='bold', color='#111111', ha='center', va='center', zorder=3)
    else:
        bg.text(x + dx, y + 7, n, fontsize=34, color='#111111', ha='center', va='center', zorder=3)

fig.savefig('out.png', dpi=100, facecolor='white')
